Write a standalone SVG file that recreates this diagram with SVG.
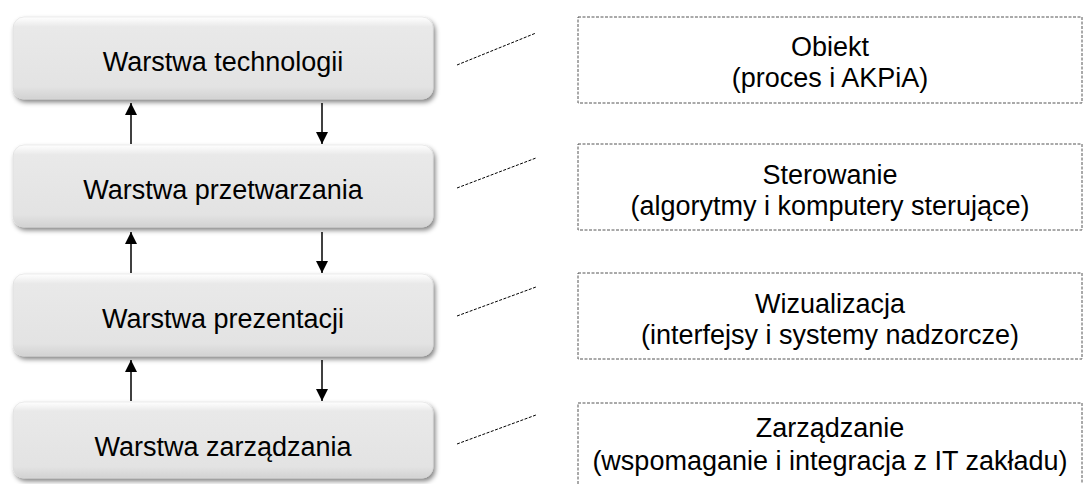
<svg xmlns="http://www.w3.org/2000/svg" width="1083" height="484" viewBox="0 0 1083 484">
<defs>
<linearGradient id="g" x1="0" y1="0" x2="0" y2="1">
<stop offset="0" stop-color="#ffffff"/>
<stop offset="0.12" stop-color="#e9e9e9"/>
<stop offset="0.85" stop-color="#e3e3e3"/>
<stop offset="1" stop-color="#d2d2d2"/>
</linearGradient>
<filter id="sh" x="-5%" y="-10%" width="112%" height="130%">
<feGaussianBlur in="SourceAlpha" stdDeviation="2.5"/>
<feOffset dx="2" dy="3" result="b"/>
<feComponentTransfer><feFuncA type="linear" slope="0.5"/></feComponentTransfer>
<feMerge><feMergeNode/><feMergeNode in="SourceGraphic"/></feMerge>
</filter>
<marker id="ah" viewBox="0 0 10 10" refX="10" refY="5" markerWidth="12" markerHeight="12" markerUnits="userSpaceOnUse" orient="auto">
<path d="M0,0 L10,5 L0,10 z" fill="#000"/>
</marker>
</defs>
<style>
.layer{fill:url(#g);filter:url(#sh);stroke:#d8d8d8;stroke-width:0.5}
.lt{font-family:"Liberation Sans",Arial,sans-serif;font-size:27px;fill:#000;text-anchor:middle}
.db{fill:none;stroke:#555;stroke-width:1;stroke-dasharray:3,1.5}
.dl{stroke:#000;stroke-width:1;stroke-dasharray:3,1.5;fill:none}
.ar{stroke:#000;stroke-width:1.5;fill:none;marker-end:url(#ah)}
</style>
<rect width="1083" height="484" fill="#fff"/>
<g id="layer1"><rect class="layer" x="13" y="17" width="420" height="82" rx="11"/><text class="lt" x="223" y="71">Warstwa technologii</text></g>
<g id="layer2"><rect class="layer" x="13" y="145" width="420" height="82" rx="11"/><text class="lt" x="223" y="199">Warstwa przetwarzania</text></g>
<g id="layer3"><rect class="layer" x="13" y="274" width="420" height="82" rx="11"/><text class="lt" x="223" y="328">Warstwa prezentacji</text></g>
<g id="layer4"><rect class="layer" x="13" y="402" width="420" height="76" rx="11"/><text class="lt" x="223" y="456">Warstwa zarządzania</text></g>
<g id="desc1"><rect class="db" x="578" y="17" width="504" height="86"/><text class="lt" x="830" y="56">Obiekt</text><text class="lt" x="830" y="87">(proces i AKPiA)</text></g>
<g id="desc2"><rect class="db" x="578" y="144" width="504" height="86"/><text class="lt" x="830" y="184">Sterowanie</text><text class="lt" x="830" y="215">(algorytmy i komputery sterujące)</text></g>
<g id="desc3"><rect class="db" x="578" y="273" width="504" height="86"/><text class="lt" x="830" y="313">Wizualizacja</text><text class="lt" x="830" y="344">(interfejsy i systemy nadzorcze)</text></g>
<g id="desc4"><rect class="db" x="578" y="403" width="504" height="90"/><text class="lt" x="830" y="437">Zarządzanie</text><text class="lt" x="830" y="470">(wspomaganie i integracja z IT zakładu)</text></g>
<g id="connectors">
<line class="ar" x1="131" y1="144" x2="131" y2="103"/>
<line class="ar" x1="322" y1="103" x2="322" y2="144"/>
<line class="ar" x1="131" y1="273" x2="131" y2="232"/>
<line class="ar" x1="322" y1="232" x2="322" y2="273"/>
<line class="ar" x1="131" y1="401" x2="131" y2="360"/>
<line class="ar" x1="322" y1="360" x2="322" y2="401"/>
<line class="dl" x1="457" y1="65" x2="536" y2="33"/>
<line class="dl" x1="457" y1="188" x2="536" y2="158"/>
<line class="dl" x1="457" y1="316" x2="536" y2="287"/>
<line class="dl" x1="457" y1="444" x2="536" y2="415"/>
</g>
</svg>
